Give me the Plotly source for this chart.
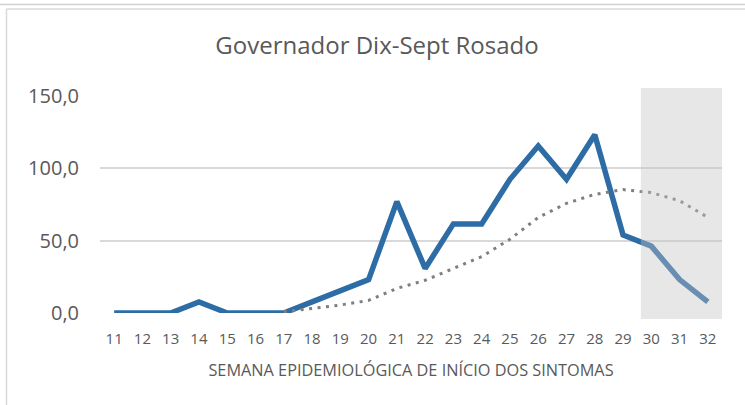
import plotly.graph_objects as go

weeks = list(range(11, 33))
week_labels = [str(w) for w in weeks]
incidence = [0, 0, 0, 7.7, 0, 0, 0, 7.7, 15.4, 23.1, 77.0, 30.8, 61.6, 61.6,
             92.4, 115.5, 92.4, 123.2, 53.9, 46.2, 23.1, 7.7]
trend = [None, None, None, None, None, None, 0.8, 3.4, 5.5, 8.7, 17.0, 22.6,
         30.8, 39.0, 51.0, 66.0, 75.8, 82.0, 85.3, 83.2, 77.6, 66.1]
y_ticks = [0, 50, 100, 150]
y_tick_labels = ["0,0", "50,0", "100,0", "150,0"]
title_text = "Governador Dix-Sept Rosado"
x_title = "SEMANA EPIDEMIOLÓGICA DE INÍCIO DOS SINTOMAS"
shade_start = 29.63

FONT = "Open Sans"
TXT = "#595959"

W, H = 745, 405
L, R, T, B = 100, 23, 96, 92
pw, ph = W - L - R, H - T - B

def px_x(px):
    return (px - L) / pw

def px_y(py):
    return (H - B - py) / ph

fig = go.Figure()
fig.add_trace(go.Scatter(
    x=weeks, y=incidence, mode="lines",
    line=dict(color="#2e6ca5", width=5.5),
    hoverinfo="skip", showlegend=False))
fig.add_trace(go.Scatter(
    x=weeks, y=trend, mode="lines",
    line=dict(color="#7f7f7f", width=3, dash="3px,5.5px"),
    hoverinfo="skip", showlegend=False))

shapes = [
    # shaded projection region (overlay)
    dict(type="rect", xref="x", yref="paper", x0=shade_start, x1=32.5,
         y0=px_y(319), y1=px_y(88), fillcolor="rgba(196,196,196,0.4)",
         line=dict(width=0), layer="above"),
    # chart frame lines
    dict(type="line", xref="paper", yref="paper", x0=px_x(6.5), x1=px_x(745),
         y0=px_y(9), y1=px_y(9), line=dict(color="#d9d9d9", width=1.5)),
    dict(type="line", xref="paper", yref="paper", x0=px_x(6.5), x1=px_x(6.5),
         y0=px_y(9), y1=px_y(405), line=dict(color="#d9d9d9", width=1.5)),
    dict(type="line", xref="paper", yref="paper", x0=px_x(0), x1=px_x(745),
         y0=px_y(4.5), y1=px_y(4.5), line=dict(color="#d0d0d0", width=1.5)),
]

fig.update_layout(
    width=W, height=H,
    margin=dict(l=L, r=R, t=T, b=B),
    paper_bgcolor="white", plot_bgcolor="white",
    font=dict(family=FONT, color=TXT),
    title=dict(text=title_text, x=377 / W, xref="container", xanchor="center",
               y=1 - 46 / H, yanchor="middle",
               font=dict(size=24, color=TXT, family=FONT)),
    shapes=shapes,
    xaxis=dict(range=[10.5, 32.5], tickmode="array", tickvals=weeks,
               ticktext=week_labels, showgrid=False, zeroline=False,
               showline=False, ticks="", tickfont=dict(size=15, color=TXT),
               ticklabelstandoff=15,
               title=dict(text=x_title, font=dict(size=16.3, color=TXT),
                          standoff=17)),
    yaxis=dict(range=[0, 150], tickmode="array", tickvals=y_ticks,
               ticktext=y_tick_labels, showgrid=True, gridcolor="#d9d9d9",
               gridwidth=2, zeroline=False, showline=False, ticks="",
               tickfont=dict(size=20, color=TXT), ticklabelstandoff=20),
)

fig.write_html("out.html",
               config={"displayModeBar": False},
               post_script="document.body.style.margin='0';document.body.style.overflow='hidden';")
